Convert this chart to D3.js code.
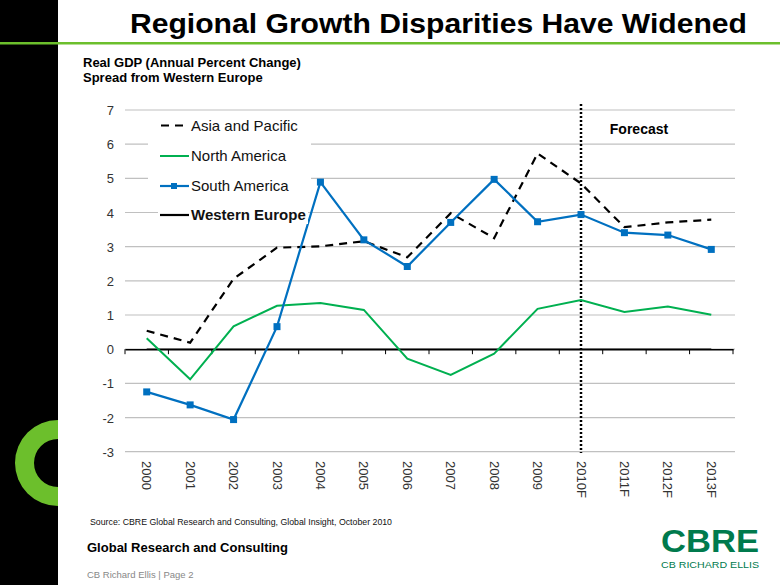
<!DOCTYPE html>
<html><head><meta charset="utf-8">
<script src="https://cdn.jsdelivr.net/npm/d3@7"></script>
<style>body{margin:0;background:#fff}svg{display:block;font-family:"Liberation Sans",Arial,sans-serif}</style>
</head><body><svg id="c" width="780" height="585"></svg>
<script>
const categories = ["2000","2001","2002","2003","2004","2005","2006","2007","2008","2009","2010F","2011F","2012F","2013F"];
const asiaPacific = [0.54,0.19,2.06,2.97,3.01,3.16,2.69,3.98,3.25,5.73,4.85,3.57,3.71,3.79];
const northAmerica = [0.32,-0.88,0.67,1.27,1.35,1.15,-0.28,-0.75,-0.13,1.18,1.44,1.09,1.25,1.01];
const southAmerica = [-1.25,-1.63,-2.06,0.66,4.89,3.2,2.42,3.71,4.97,3.73,3.94,3.41,3.34,2.92];
const westernEurope = [0,0,0,0,0,0,0,0,0,0,0,0,0,0];
const yTicks = [7,6,5,4,3,2,1,0,-1,-2,-3];
const forecastStart = "2010F";

const svg = d3.select("#c");
// left black band and logo C
svg.append("rect").attr("x",0).attr("y",0).attr("width",58).attr("height",585).attr("fill","#000");
svg.append("path")
  .attr("d", d3.arc().innerRadius(24).outerRadius(43).startAngle(Math.PI).endAngle(2*Math.PI)())
  .attr("transform","translate(58,463)").attr("fill","#6cbf2c");
svg.append("rect").attr("x",0).attr("y",42).attr("width",780).attr("height",2.5).attr("fill","#6cbf2c");

svg.append("text").attr("x",747).attr("y",33).attr("text-anchor","end")
  .attr("font-size",28).attr("font-weight","bold").attr("fill","#000")
  .attr("textLength",617).attr("lengthAdjust","spacingAndGlyphs")
  .text("Regional Growth Disparities Have Widened");
svg.append("text").attr("x",83).attr("y",67).attr("font-size",13).attr("font-weight","bold").text("Real GDP (Annual Percent Change)");
svg.append("text").attr("x",83).attr("y",82).attr("font-size",13).attr("font-weight","bold").text("Spread from Western Europe");

const x = d3.scaleBand().domain(categories).range([125,733]);
const y = d3.scaleLinear().domain([-3,7]).range([451.7,110]);

// gridlines
svg.append("g").selectAll("line").data(yTicks).join("line")
  .attr("x1",125).attr("x2",735).attr("y1",d=>y(d)).attr("y2",d=>y(d))
  .attr("stroke","#c0c0c0").attr("stroke-width",1.2);

// y axis labels
const yAxis = d3.axisLeft(y).tickValues(yTicks).tickSize(0).tickPadding(0).tickFormat(d=>String(d));
const ga = svg.append("g").attr("transform","translate(114,0)").call(yAxis);
ga.select(".domain").remove();
ga.selectAll("text").attr("font-size",13).attr("fill","#333").attr("font-family","Liberation Sans, Arial, sans-serif").attr("dy","0.35em");

// x axis at zero
const xAxis = d3.axisBottom(x).tickSize(0).tickFormat("");
const gx = svg.append("g").attr("transform",`translate(0,${y(0)})`).call(xAxis);
gx.select(".domain").attr("stroke","#000").attr("stroke-width",1.5);
const bounds = categories.map(c=>x(c)).concat([x.range()[1]]);
gx.selectAll(".tk").data(bounds).join("line").attr("class","tk")
  .attr("x1",d=>d).attr("x2",d=>d).attr("y1",0).attr("y2",5).attr("stroke","#000").attr("stroke-width",1);

// x labels rotated
svg.append("g").selectAll("text").data(categories).join("text")
  .attr("transform",d=>`translate(${x(d)+x.bandwidth()/2-4.5},461) rotate(90)`)
  .attr("font-size",13).attr("fill","#333").text(d=>d);

const cx = d=>x(d)+x.bandwidth()/2;
const line = d3.line().x((d,i)=>cx(categories[i])).y(d=>y(d));

// forecast divider
svg.append("line").attr("x1",cx(forecastStart)).attr("x2",cx(forecastStart)).attr("y1",104).attr("y2",453)
  .attr("stroke","#000").attr("stroke-width",2.5).attr("stroke-dasharray","2,2");
svg.append("text").attr("x",639).attr("y",134).attr("text-anchor","middle").attr("font-size",14).attr("font-weight","bold").text("Forecast");

svg.append("path").datum(westernEurope).attr("d",line).attr("fill","none").attr("stroke","#000").attr("stroke-width",1.5);
svg.append("path").datum(northAmerica).attr("d",line).attr("fill","none").attr("stroke","#00b050").attr("stroke-width",2);
svg.append("path").datum(asiaPacific).attr("d",line).attr("fill","none").attr("stroke","#000").attr("stroke-width",2.2).attr("stroke-dasharray","8,6");
svg.append("path").datum(southAmerica).attr("d",line).attr("fill","none").attr("stroke","#0070c0").attr("stroke-width",2.2);
svg.append("g").selectAll("rect").data(southAmerica).join("rect")
  .attr("x",(d,i)=>cx(categories[i])-3.5).attr("y",d=>y(d)-3.5).attr("width",7).attr("height",7).attr("fill","#0070c0");

// legend
const lg = svg.append("g");
lg.append("rect").attr("x",148).attr("y",115).attr("width",163).attr("height",92).attr("fill","#fff");
const items = [
  {name:"Asia and Pacific",color:"#000",dash:"8,6",w:2.2,bold:false,marker:false},
  {name:"North America",color:"#00b050",dash:null,w:2,bold:false,marker:false},
  {name:"South America",color:"#0070c0",dash:null,w:2.2,bold:false,marker:true},
  {name:"Western Europe",color:"#000",dash:null,w:2.2,bold:true,marker:false}
];
const rowY = [125.5,156,186,215];
items.forEach((it,i)=>{
  const g = lg.append("g").attr("transform",`translate(0,${rowY[i]})`);
  if(i===3) g.append("rect").attr("x",158).attr("y",-9).attr("width",150).attr("height",18).attr("fill","#fff");
  g.append("line").attr("x1",i===0?161:160).attr("x2",189).attr("y1",0).attr("y2",0)
    .attr("stroke",it.color).attr("stroke-width",it.w).attr("stroke-dasharray",it.dash);
  if(it.marker) g.append("rect").attr("x",171).attr("y",-3).attr("width",6).attr("height",6).attr("fill",it.color);
  g.append("text").attr("x",191).attr("y",0).attr("dy","0.35em").attr("font-size",15)
    .attr("font-weight",it.bold?"bold":"normal").attr("fill","#111").text(it.name);
});

// footer
svg.append("text").attr("x",90).attr("y",525).attr("font-size",9.5).attr("fill","#111")
  .attr("textLength",302).attr("lengthAdjust","spacingAndGlyphs")
  .text("Source: CBRE  Global Research and Consulting, Global Insight, October 2010");
svg.append("text").attr("x",87).attr("y",552).attr("font-size",13.5).attr("font-weight","bold").attr("fill","#000")
  .attr("textLength",201).attr("lengthAdjust","spacingAndGlyphs")
  .text("Global Research and Consulting");
svg.append("text").attr("x",87).attr("y",578).attr("font-size",9.5).attr("fill","#888")
  .text("CB Richard Ellis  |  Page 2");
svg.append("text").attr("x",710).attr("y",552).attr("text-anchor","middle").attr("font-size",31)
  .attr("font-weight","bold").attr("fill","#007a4d").attr("textLength",98).attr("lengthAdjust","spacingAndGlyphs").text("CBRE");
svg.append("text").attr("x",710).attr("y",568).attr("text-anchor","middle").attr("font-size",9.5)
  .attr("fill","#007a4d").attr("textLength",98).attr("lengthAdjust","spacingAndGlyphs").text("CB RICHARD ELLIS");
</script></body></html>
